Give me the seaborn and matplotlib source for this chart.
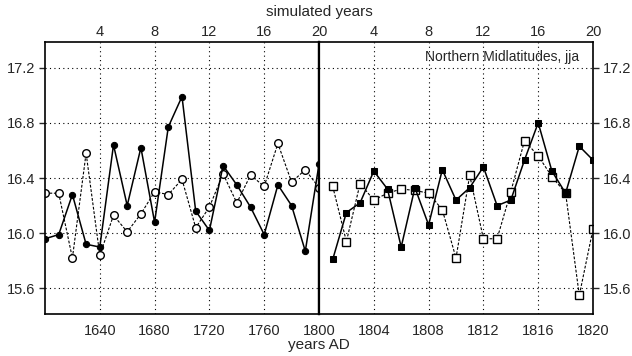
import numpy as np
import matplotlib
matplotlib.use("Agg")
import matplotlib.pyplot as plt
import seaborn as sns

# years AD
years_left = list(range(1600, 1801, 10))
years_right = list(range(1801, 1821))

# left panel (every 10th year 1600-1800)
left_filled = [15.96, 15.99, 16.28, 15.92, 15.90, 16.64, 16.20, 16.62, 16.08, 16.77, 16.99,
               16.16, 16.02, 16.49, 16.35, 16.19, 15.99, 16.35, 16.20, 15.87, 16.50]
left_open = [16.29, 16.29, 15.82, 16.58, 15.84, 16.13, 16.01, 16.14, 16.30, 16.28, 16.39,
             16.04, 16.19, 16.43, 16.22, 16.42, 16.34, 16.65, 16.37, 16.46, 16.33]

# right panel (annual 1801-1820)
right_filled = [15.81, 16.15, 16.22, 16.45, 16.32, 15.90, 16.33, 16.06, 16.46, 16.24,
                16.33, 16.48, 16.20, 16.24, 16.53, 16.80, 16.45, 16.29, 16.63, 16.53]
right_open = [16.34, 15.94, 16.36, 16.24, 16.29, 16.32, 16.31, 16.29, 16.17, 15.82,
              16.42, 15.96, 15.96, 16.30, 16.67, 16.56, 16.41, 16.29, 15.55, 16.03]

yticks = [15.6, 16.0, 16.4, 16.8, 17.2]
sim_ticks = [4, 8, 12, 16, 20]

sns.set_style("white")
plt.rcParams['font.family'] = ['Liberation Sans', 'DejaVu Sans']
plt.rcParams['font.size'] = 10

fig = plt.figure(figsize=(6.32, 3.56), dpi=100)
L, R, B, T = 45 / 632, 593 / 632, 1 - 314 / 356, 1 - 42 / 356
mid = 319 / 632
ax1 = fig.add_axes([L, B, mid - L, T - B])
ax2 = fig.add_axes([mid, B, R - mid, T - B], sharey=ax1)

dot = (0, (1, 3))
solid_kw = dict(color='black', lw=1.1, markersize=4.5, markerfacecolor='black',
                markeredgecolor='black')
open_kw = dict(color='black', lw=0.8, linestyle=(0, (2.5, 1.5)), markersize=5.5,
               markerfacecolor='white', markeredgecolor='black', markeredgewidth=1.0)

sns.lineplot(x=years_left, y=left_open, marker='o', ax=ax1, **open_kw)
sns.lineplot(x=years_left, y=left_filled, marker='o', ax=ax1, **solid_kw)
sns.lineplot(x=years_right, y=right_open, marker='s', ax=ax2, **open_kw)
sns.lineplot(x=years_right, y=right_filled, marker='s', ax=ax2,
             **dict(solid_kw, markersize=5))

ax1.set_xlim(1600, 1800)
ax2.set_xlim(1800, 1820)
ax1.set_ylim(15.415, 17.385)
ax1.set_xticks([1640, 1680, 1720, 1760, 1800])
ax2.set_xticks([1804, 1808, 1812, 1816, 1820])
ax1.set_yticks(yticks)
ax1.set_yticklabels([f"{v:.1f}" for v in yticks], fontsize=10.5)

for ax in (ax1, ax2):
    ax.grid(True, color='black', linestyle=dot, lw=0.8)
    ax.tick_params(axis='x', length=0, pad=7, labelsize=10.5)
    ax.set_xlabel('')
    for s in ax.spines.values():
        s.set_linewidth(1.2)
        s.set_color('black')

ax1.spines['right'].set_linewidth(1.6)
ax2.spines['left'].set_linewidth(1.6)
ax1.tick_params(axis='y', left=True, length=4, width=1.0, direction='out', pad=3)
ax2.tick_params(axis='y', left=False, labelleft=False, right=True, labelright=True,
                length=4, width=1.0, direction='out', pad=3, labelsize=10.5)
ax1.set_xticklabels(['1640', '1680', '1720', '1760', '1800'])
ax2.set_xticklabels(['1804', '1808', '1812', '1816', '1820'])

# simulated years on top
sec1 = ax1.secondary_xaxis('top', functions=(lambda x: (x - 1600) / 10, lambda s: 1600 + 10 * s))
sec2 = ax2.secondary_xaxis('top', functions=(lambda x: x - 1800, lambda s: 1800 + s))
for sec in (sec1, sec2):
    sec.set_xticks(sim_ticks)
    sec.set_xticklabels([str(t) for t in sim_ticks])
    sec.tick_params(length=0, pad=2, labelsize=10.5)
    sec.spines['top'].set_visible(False)

fig.text(mid, 0.985, 'simulated years', ha='center', va='top', fontsize=11)
fig.text(mid, 0.01, 'years AD', ha='center', va='bottom', fontsize=11)
ax2.text(0.95, 0.97, 'Northern Midlatitudes, jja', transform=ax2.transAxes,
         ha='right', va='top', fontsize=10)

fig.savefig('out.png', dpi=100)
